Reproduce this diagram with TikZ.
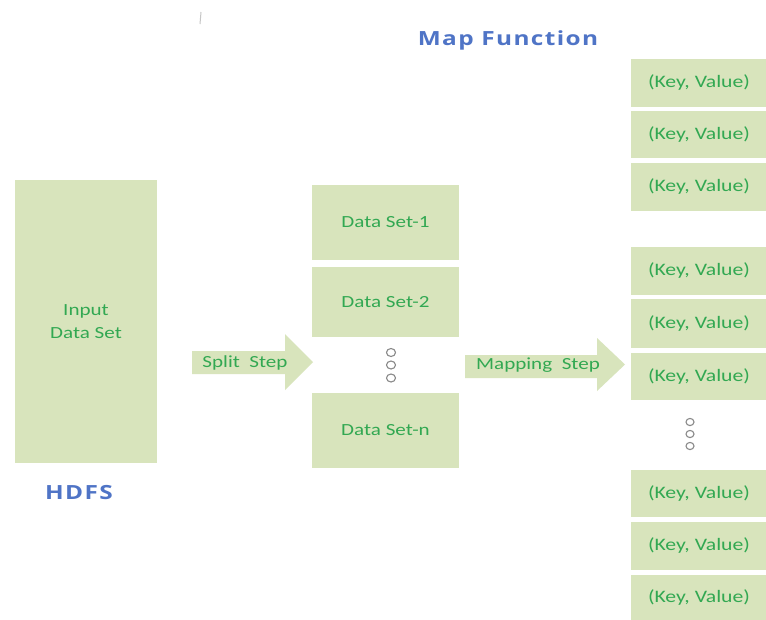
\documentclass[tikz,border=0pt]{standalone}
\usepackage{fontspec}
\setmainfont[FakeStretch=1.24]{Carlito}
\newfontfamily\headfont[FakeStretch=1.25,LetterSpace=7]{Open Sans}
\definecolor{boxfill}{HTML}{D8E4BC}
\definecolor{txtgreen}{HTML}{32A852}
\definecolor{headblue}{HTML}{4F74C6}
\definecolor{dotgray}{HTML}{8A8A8A}
\begin{document}
\begin{tikzpicture}[x=1pt,y=-1pt,
  box/.style={fill=boxfill, draw=none, text=txtgreen, inner sep=0pt, align=center,
    font=\fontsize{17}{23}\selectfont},
  blockarrow/.style={fill=boxfill, draw=none},
  arrowlabel/.style={text=txtgreen, inner sep=0pt, font=\fontsize{17}{20}\selectfont},
  heading/.style={text=headblue, inner sep=0pt, font=\headfont\bfseries\fontsize{19.5}{22}\selectfont},
  dot/.style={draw=dotgray, line width=1.1pt, fill=white}
]
\useasboundingbox (0,0) rectangle (766,619);
\fill[white] (0,0) rectangle (766,619);

% stray mark
\draw[gray!45, line width=1pt] (201,12) -- (200,24);

% headings
\node[heading] (mapf) at (508,40) {Map Function};
\node[heading] (hdfs) at (79,493) {HDFS};

% HDFS input box
\node[box, minimum width=142, minimum height=283] (input) at (86,321.5) {Input\\Data Set};

% split arrow
\fill[blockarrow] (192,351) -- (285,351) -- (285,334) -- (313,362) -- (285,390) -- (285,374) -- (192,374) -- cycle;
\node[arrowlabel] (split) at (245,363) {Split\ \ Step};

% data sets
\node[box, minimum width=147, minimum height=75] (ds1) at (385.5,222.5) {Data Set-1};
\node[box, minimum width=147, minimum height=70] (ds2) at (385.5,302) {Data Set-2};
\node[box, minimum width=147, minimum height=75] (dsn) at (385.5,430.5) {Data Set-n};
\draw[dot] (391,352.5) ellipse (4.5 and 4);
\draw[dot] (391,365) ellipse (4.5 and 4);
\draw[dot] (391,378) ellipse (4.5 and 4);

% mapping arrow
\fill[blockarrow] (465,355) -- (597,355) -- (597,338) -- (625,364.5) -- (597,391) -- (597,378) -- (465,378) -- cycle;
\node[arrowlabel] (mapping) at (538,365) {Mapping\ \ Step};

% key value boxes
\foreach \n/\y/\h in {k1/83/48, k2/134.5/47, k3/187/48,
                      k4/271/48, k5/323.5/49, k6/376.5/47,
                      k7/493.5/47, k8/546/48, k9/597.5/45}{
  \node[box, minimum width=136, minimum height=\h, font=\fontsize{17.5}{20}\selectfont] (\n) at (699,\y) {(Key, Value)};
}
\draw[dot] (690,422) ellipse (4 and 3.6);
\draw[dot] (690,434) ellipse (4 and 3.6);
\draw[dot] (690,446) ellipse (4 and 3.6);
\end{tikzpicture}
\end{document}
